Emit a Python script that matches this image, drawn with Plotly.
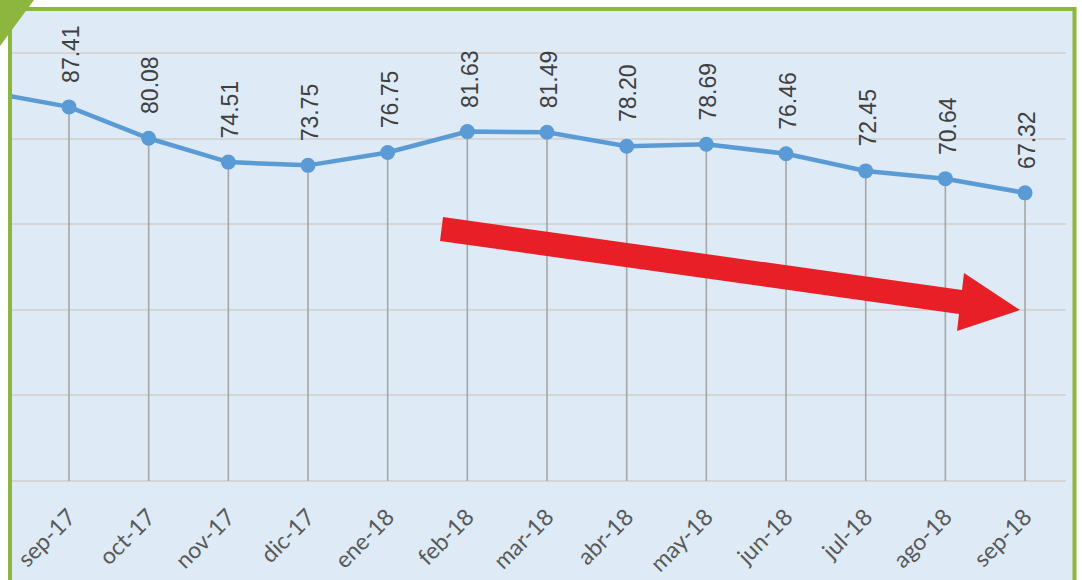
import plotly.graph_objects as go

# ---- data ----
months = ["ago-17", "sep-17", "oct-17", "nov-17", "dic-17", "ene-18", "feb-18", "mar-18",
          "abr-18", "may-18", "jun-18", "jul-18", "ago-18", "sep-18"]
values = [90.8, 87.41, 80.08, 74.51, 73.75, 76.75, 81.63, 81.49,
          78.20, 78.69, 76.46, 72.45, 70.64, 67.32]
labeled = [False] + [True] * 13  # first point lies outside the visible window

W, H = 1082, 580
L, R, T, B = 12, 1066, 11, 481      # plot area in pixels
idx = list(range(-1, len(months) - 1))

def px(xp):
    return (xp - L) / (R - L)

def py(yp):
    return (B - yp) / (B - T)

BLUE = "#5b9bd5"
GREEN = "#8db63e"
BG = "#deebf7"

fig = go.Figure()

# drop lines from each point to the axis
dx, dy = [], []
for i, v in zip(idx, values):
    dx += [i, i, None]
    dy += [0, v, None]
fig.add_trace(go.Scatter(x=dx, y=dy, mode="lines",
                         line=dict(color="#a6a6a6", width=1.6),
                         hoverinfo="skip", showlegend=False))

fig.add_trace(go.Scatter(x=idx, y=values, mode="lines+markers",
                         line=dict(color=BLUE, width=4.5),
                         marker=dict(color=BLUE, size=15),
                         showlegend=False))

for i, v, show in zip(idx, values, labeled):
    if not show:
        continue
    fig.add_annotation(x=i, y=v, text=f"{v:.2f}", showarrow=False,
                       textangle=-90, yanchor="bottom", xanchor="center",
                       yshift=22, xshift=2,
                       font=dict(family="Liberation Sans, Arial, sans-serif",
                                 size=23, color="#404040"))

shapes = []
# light blue panel with green frame
shapes.append(dict(type="rect", xref="paper", yref="paper", layer="below",
                   x0=px(10), x1=px(1074.5), y0=py(9), y1=py(640),
                   fillcolor=BG, line=dict(color=GREEN, width=4)))
# green corner triangle
shapes.append(dict(type="path", xref="paper", yref="paper", layer="above",
                   path=f"M{px(0)},{py(0)} L{px(34)},{py(0)} L{px(0)},{py(46)} Z",
                   fillcolor=GREEN, line=dict(width=0)))
# red arrow
pts = [(443, 217), (962, 290), (964, 273), (1020, 310), (957, 331), (959, 314), (440, 241)]
path = "M" + " L".join(f"{px(a)},{py(b)}" for a, b in pts) + " Z"
shapes.append(dict(type="path", xref="paper", yref="paper", layer="above",
                   path=path, fillcolor="#e81f26", line=dict(width=0)))

fig.update_layout(
    width=W, height=H,
    margin=dict(l=L, r=W - R, t=T, b=H - B, autoexpand=False),
    paper_bgcolor="white",
    plot_bgcolor="rgba(0,0,0,0)",
    shapes=shapes,
    xaxis=dict(range=[(L - 69) / 79.67, (R - 69) / 79.67], automargin=False,
               tickmode="array", tickvals=idx[1:], ticktext=months[1:],
               tickangle=-45, showgrid=False, zeroline=False, showline=False,
               ticks="", ticklabelstandoff=17,
               tickfont=dict(family="Lato, Open Sans, sans-serif", size=23, color="#595959")),
    yaxis=dict(range=[0, (B - T) / 4.28], dtick=20, tick0=0, automargin=False,
               showticklabels=False, showgrid=True, gridcolor="#d5d5d5", gridwidth=1.6,
               zeroline=True, zerolinecolor="#d5d5d5", zerolinewidth=1.6,
               showline=False, ticks=""),
)

fig.write_html("out.html", config={"displayModeBar": False},
               post_script="document.body.style.margin='0';document.body.style.overflow='hidden';")
